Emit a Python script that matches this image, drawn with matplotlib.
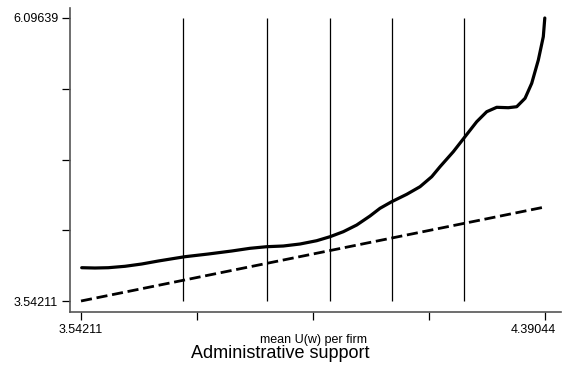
import matplotlib
matplotlib.use("Agg")
import matplotlib.pyplot as plt
import matplotlib.transforms as mtransforms
import numpy as np

plt.rcParams['font.family'] = ['Liberation Sans', 'DejaVu Sans']

# range of mean U(w) per firm (both axes)
x_min, x_max = 3.54211, 4.39044
y_min, y_max = 3.54211, 6.09639

# vertical reference lines (cutoffs)
cutoffs = [3.7287, 3.8823, 3.9976, 4.1110, 4.2427]

# smoothed curve
curve_x = [3.5434, 3.5677, 3.5920, 3.6226, 3.6531, 3.6835, 3.7140, 3.7323,
           3.7750, 3.8178, 3.8512, 3.8818, 3.9121, 3.9427, 3.9732, 3.9976,
           4.0219, 4.0464, 4.0707, 4.0890, 4.1104, 4.1379, 4.1622, 4.1836,
           4.1988, 4.2231, 4.2445, 4.2659, 4.2842, 4.3025, 4.3237, 4.3391,
           4.3543, 4.3665, 4.3786, 4.3877, 4.39044]
curve_y = [3.8426, 3.8399, 3.8426, 3.8553, 3.8760, 3.9031, 3.9275, 3.9419,
           3.9663, 3.9934, 4.0177, 4.0322, 4.0385, 4.0565, 4.0863, 4.1224,
           4.1676, 4.2280, 4.3092, 4.3787, 4.4383, 4.5051, 4.5737, 4.6639,
           4.7542, 4.8896, 5.0250, 5.1603, 5.2506, 5.2903, 5.2867, 5.2957,
           5.3715, 5.5069, 5.7172, 5.9275, 6.09639]

# 45 degree line
diag_x = [x_min, x_max]

fig = plt.figure(figsize=(5.63, 3.66), dpi=100)
ax = fig.add_axes([70 / 563, 1 - 312 / 366, 491 / 563, 304 / 366])

ax.vlines(cutoffs, y_min, y_max, color='black', lw=0.9)
ax.plot(diag_x, diag_x, color='black', lw=2.0, linestyle=(0, (4, 1.7)))
ax.plot(curve_x, curve_y, color='black', lw=2.3,
        solid_capstyle='round', solid_joinstyle='round')

xspan = (x_max - x_min) / 463.8
yspan = (y_max - y_min) / 283.0
ax.set_xlim(x_min - 11 * xspan, x_min + 480 * xspan)
ax.set_ylim(y_min - 11 * yspan, y_min + 293 * yspan)

xt = np.linspace(x_min, x_max, 5)
yt = np.linspace(y_min, y_max, 5)
ax.set_xticks(xt)
ax.set_xticklabels(['3.54211', '', '', '', '4.39044'])
ax.set_yticks(yt)
ax.set_yticklabels(['3.54211', '', '', '', '6.09639'])
ax.tick_params(direction='out', length=5.5, width=0.9, labelsize=9, pad=3)

# last x label is pulled inside the figure
lab = ax.get_xticklabels()[-1]
lab.set_horizontalalignment('right')
lab.set_transform(lab.get_transform() +
                  mtransforms.ScaledTranslation(11 / 100, 0, fig.dpi_scale_trans))

for s in ['top', 'right']:
    ax.spines[s].set_visible(False)
for s in ['left', 'bottom']:
    ax.spines[s].set_color('#555555')
    ax.spines[s].set_linewidth(1.2)

fig.text(313 / 563, 1 - 340 / 366, 'mean U(w) per firm', ha='center', va='center', fontsize=9)
fig.text(280 / 563, 1 - 353 / 366, 'Administrative support', ha='center', va='center', fontsize=13)

fig.savefig('out.png', dpi=100)
